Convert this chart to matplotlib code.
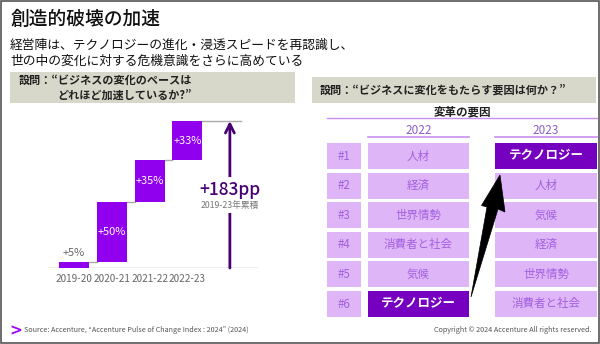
import matplotlib
matplotlib.use("Agg")
import matplotlib.pyplot as plt
import numpy as np
from matplotlib.patches import Rectangle, Polygon

plt.rcParams['font.family'] = ['Noto Sans CJK JP', 'DejaVu Sans']

# ---- data ----
periods = ['2019-20', '2020-21', '2021-22', '2022-23']
pace_values = [5, 50, 35, 33]
pace_labels = ['+5%', '+50%', '+35%', '+33%']
total_label = '+183pp'
total_sub = '2019-23年累積'

ranks = ['#1', '#2', '#3', '#4', '#5', '#6']
years = ['2022', '2023']
factors_2022 = ['人材', '経済', '世界情勢', '消費者と社会', '気候', 'テクノロジー']
factors_2023 = ['テクノロジー', '人材', '気候', '経済', '世界情勢', '消費者と社会']
highlight = 'テクノロジー'

title = '創造的破壊の加速'
subtitle1 = '経営陣は、テクノロジーの進化・浸透スピードを再認識し、'
subtitle2 = '世の中の変化に対する危機意識をさらに高めている'
q_left1 = '設問：“ビジネスの変化のペースは'
q_left2 = 'どれほど加速しているか?”'
q_right = '設問：“ビジネスに変化をもたらす要因は何か？”'
table_title = '変革の要因'
source = 'Source: Accenture, “Accenture Pulse of Change Index : 2024” (2024)'
copyright_txt = 'Copyright © 2024 Accenture All rights reserved.'

# ---- styles ----
W, H = 600, 344
BAR = '#9000ee'
DARK = '#460073'
CELL = '#deb6f8'
CELL_TXT = '#a35fe0'
HI = '#7500c0'
BOX = '#d8d8ca'
GRAY = '#666666'

fig = plt.figure(figsize=(W / 100, H / 100), dpi=100)
fig.patch.set_facecolor('white')

def fx(x):
    return x / W

def fy(y):
    return 1 - y / H

def ftext(x, y, s, **kw):
    fig.text(fx(x), fy(y), s, **kw)

# border
fig.add_artist(Rectangle((fx(0.5), fy(342.5)), fx(598), 341.5 / H, transform=fig.transFigure,
                         fill=False, edgecolor='#555555', lw=1.2))

# title / subtitle
ftext(10, 19, title, fontsize=13.5, va='center', ha='left', color='#111111', fontweight='medium')
ftext(10, 45, subtitle1, fontsize=9.2, va='center', ha='left', color='#111111')
ftext(10, 61, subtitle2, fontsize=9.2, va='center', ha='left', color='#111111')

# question boxes
fig.add_artist(Rectangle((fx(10), fy(103)), (295 - 10) / W, (103 - 72) / H,
                         transform=fig.transFigure, facecolor=BOX, edgecolor='none'))
fig.add_artist(Rectangle((fx(312), fy(103)), (596 - 312) / W, (103 - 77) / H,
                         transform=fig.transFigure, facecolor=BOX, edgecolor='none'))
ftext(19, 80, q_left1, fontsize=8.0, fontweight='bold', va='center', ha='left', color='#222222')
ftext(57, 95, q_left2, fontsize=8.0, fontweight='bold', va='center', ha='left', color='#222222')
ftext(320, 90, q_right, fontsize=8.0, fontweight='bold', va='center', ha='left', color='#222222')

# ---- waterfall chart ----
ax = fig.add_axes([fx(48), fy(268), 210 / W, 158 / H])
ax.set_xlim(-0.69, 4.87)
ax.set_ylim(0, 132.2)
ax.axis('off')
x = np.arange(len(periods))
vals = np.array(pace_values, dtype=float)
cum = np.cumsum(vals)
bottoms = cum - vals
bw = 0.79
ax.bar(x, vals, bottom=bottoms, width=bw, color=BAR, zorder=2)
ax.plot([-0.69, 4.87], [0, 0], color='#aaaaaa', lw=1, zorder=1)
for i in range(len(x) - 1):
    ax.plot([x[i] + bw / 2, x[i + 1] - bw / 2], [cum[i], cum[i]], color='#aaaaaa', lw=1, zorder=1)
ax.plot([x[-1] + bw / 2, 4.42], [cum[-1], cum[-1]], color='#aaaaaa', lw=1, zorder=1)
for i, (v, lab) in enumerate(zip(vals, pace_labels)):
    if v < 10:
        ax.text(x[i], cum[i] + 7.5, lab, ha='center', va='center', fontsize=8, color=GRAY)
    else:
        ax.text(x[i], bottoms[i] + v / 2, lab, ha='center', va='center', fontsize=8, color='white')
    ax.text(x[i], -9.5, periods[i], ha='center', va='center', fontsize=7.2, color=GRAY, clip_on=False)

ax_x = 4.125
ax.annotate('', xy=(ax_x, cum[-1]), xytext=(ax_x, 0),
            arrowprops=dict(arrowstyle='->', lw=2, color=DARK, mutation_scale=16,
                            shrinkA=0, shrinkB=0), zorder=3)
ax.add_patch(Rectangle((ax_x - 0.3, 46), 0.6, 30, facecolor='white', edgecolor='none', zorder=4))
ax.text(ax_x, 65.5, total_label, ha='center', va='center', fontsize=12.5, color=DARK, zorder=5,
        fontweight='medium')
ax.text(ax_x, 52, total_sub, ha='center', va='center', fontsize=6.3, color='#777777', zorder=5)

# ---- ranking table ----
ftext(462, 112, table_title, fontsize=8.3, fontweight='bold', va='center', ha='center', color='#222222')
fig.add_artist(plt.Line2D([fx(327), fx(597)], [fy(118), fy(118)], transform=fig.transFigure,
                          color='#c890f0', lw=1))
year_centers = [418.5, 546]
year_spans = [(368, 469), (495, 597)]
for yl, xc, (a, b) in zip(years, year_centers, year_spans):
    ftext(xc, 130, yl, fontsize=8.5, va='center', ha='center', color='#8e5ccc')
    fig.add_artist(plt.Line2D([fx(a), fx(b)], [fy(137), fy(137)], transform=fig.transFigure,
                              color='#c890f0', lw=1.2))

axt = fig.add_axes([fx(327), fy(317), 270 / W, 174 / H])
axt.set_xlim(0, 270)
rh = 26 / 29.6
axt.set_ylim(len(ranks) - 1 + rh / 2, -rh / 2)
axt.axis('off')
rows = np.arange(len(ranks))
cols = [(0, 34, ranks), (41, 101, factors_2022), (168, 102, factors_2023)]
for left, width, labels in cols:
    colors = [HI if lab == highlight else CELL for lab in labels]
    axt.barh(rows, [width] * len(rows), left=left, height=rh, color=colors, edgecolor='none')
    for r, lab in zip(rows, labels):
        if lab == highlight:
            axt.text(left + width / 2, r, lab, ha='center', va='center', fontsize=9,
                     fontweight='bold', color='white')
        else:
            axt.text(left + width / 2, r, lab, ha='center', va='center', fontsize=8.3,
                     color=CELL_TXT)

# big black arrow
pts = [(471, 297), (487, 207), (481.5, 205.5), (500, 175), (505, 212), (498, 209)]
fig.add_artist(Polygon([(fx(px), fy(py)) for px, py in pts], closed=True,
                       transform=fig.transFigure, facecolor='black', edgecolor='black', lw=0.5))

# footer
ftext(9, 331, '>', fontsize=11, fontweight='bold', color='#a100ff', va='center', ha='left',
      family='DejaVu Sans')
ftext(24, 330, source, fontsize=5.2, color='#555555', va='center', ha='left')
ftext(591, 330, copyright_txt, fontsize=5.2, color='#555555', va='center', ha='right')

fig.savefig('out.png', dpi=100)
